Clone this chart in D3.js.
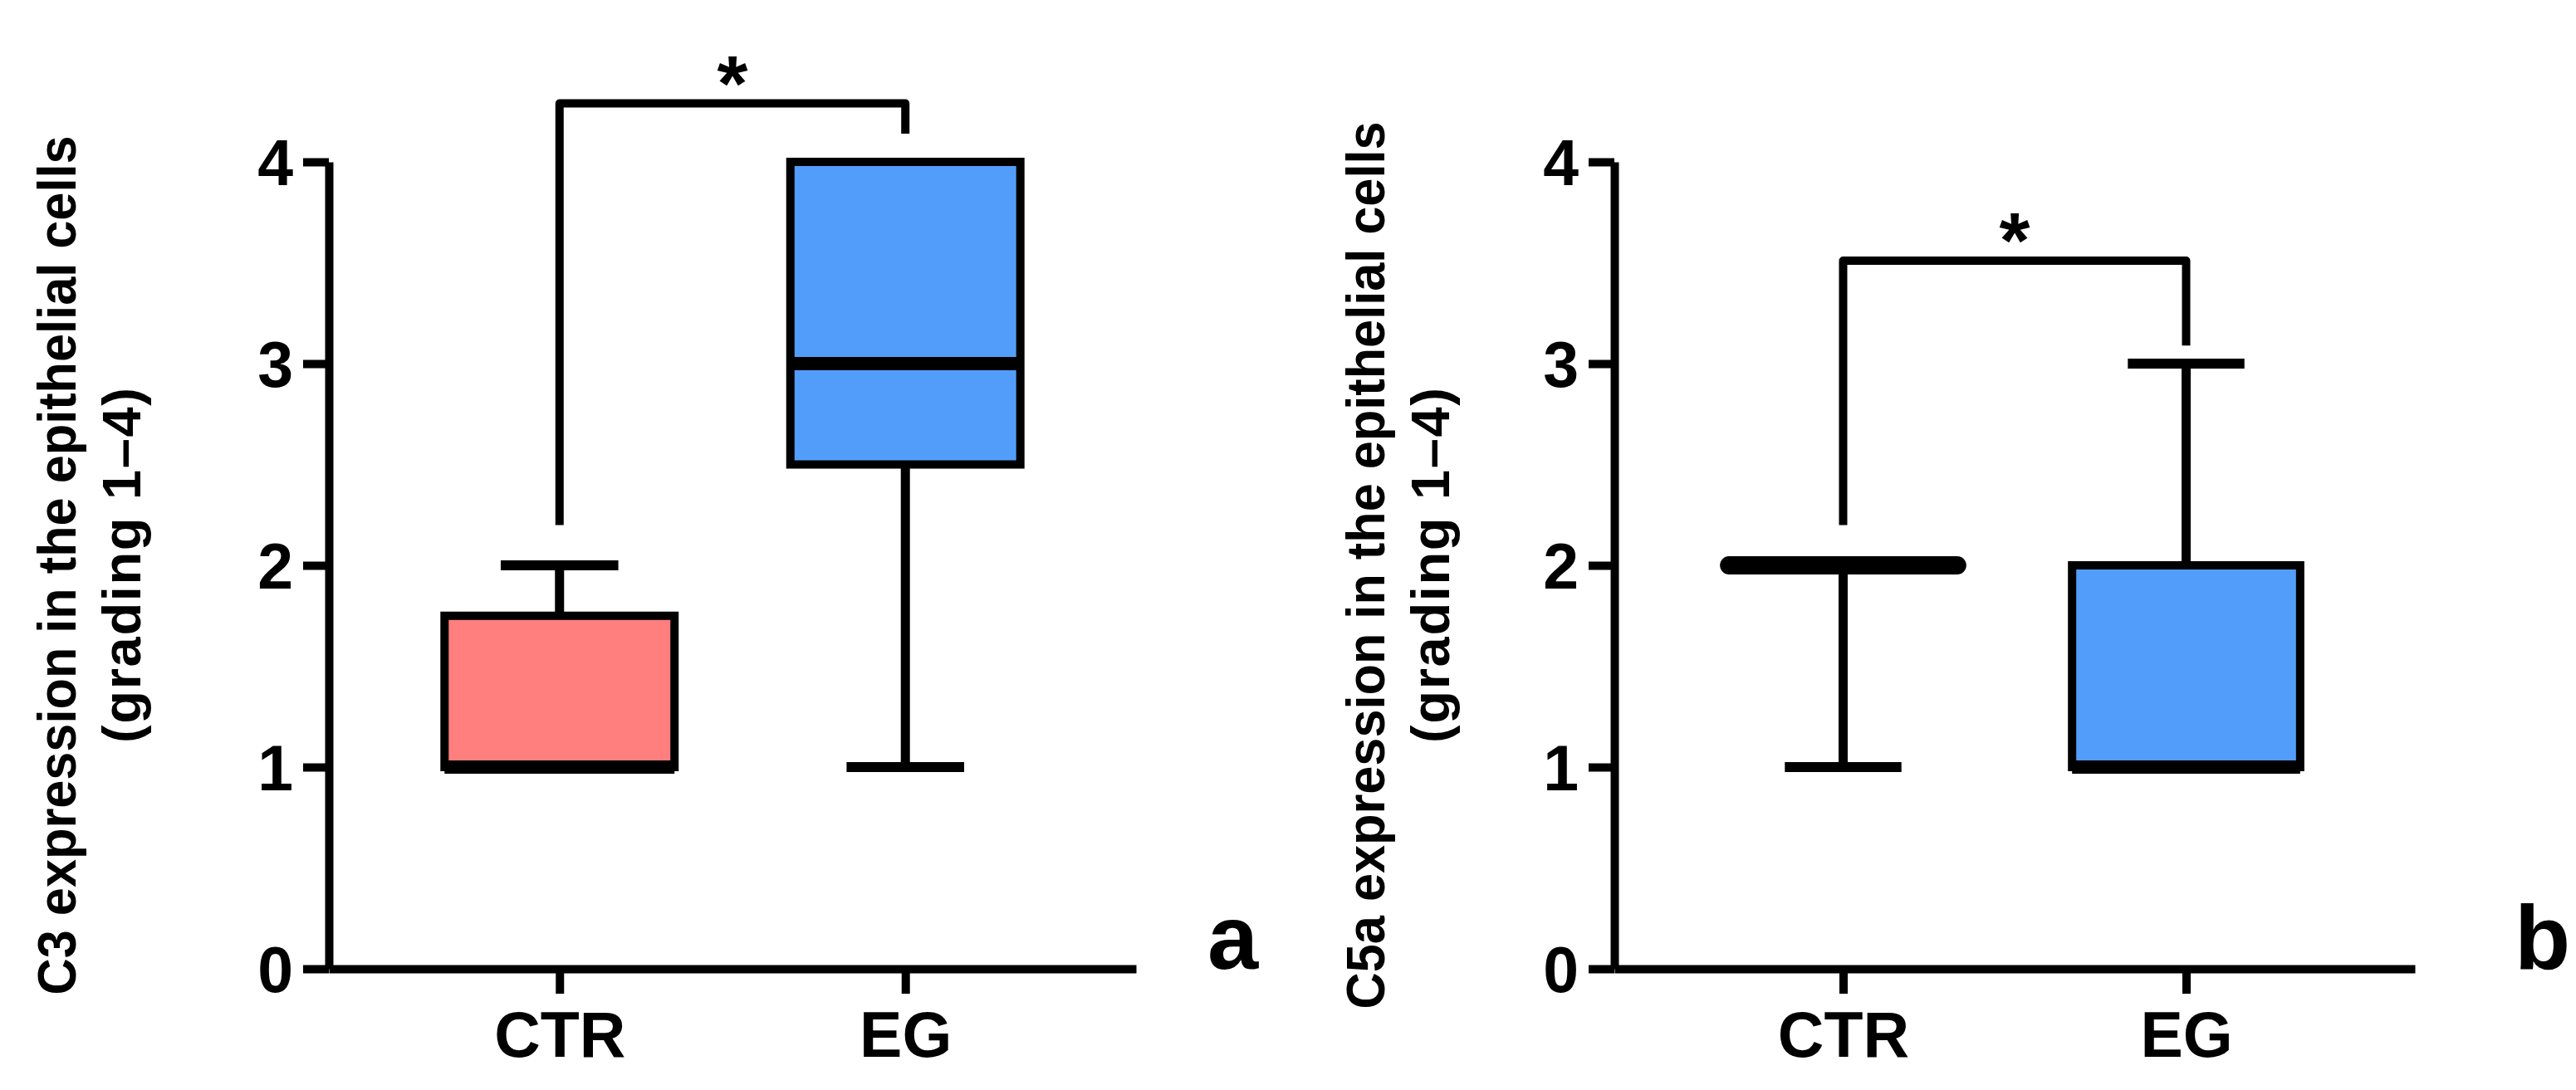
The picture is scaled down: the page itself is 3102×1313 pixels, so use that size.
<!DOCTYPE html>
<html>
<head>
<meta charset="utf-8">
<script src="https://cdn.jsdelivr.net/npm/d3@7"></script>
<style>
  html, body { margin: 0; padding: 0; background: #ffffff; }
  svg { display: block; }
  text { font-family: "Liberation Sans", Arial, Helvetica, sans-serif; font-weight: bold; fill: #000; }
</style>
</head>
<body>
<svg id="chart" width="3102" height="1313"></svg>
<script>
// ---------- data ----------
const categories = ["CTR", "EG"];
const yTicks = [0, 1, 2, 3, 4];

// panel a: C3
const c3Min    = [1, 1];
const c3Q1     = [1, 2.5];
const c3Median = [1, 3];
const c3Q3     = [1.75, 4];
const c3Max    = [2, 4];
const c3Bracket = [2.2, 4.29, 4.14];   // left leg end, top, right leg end
const c3Sig = "*";

// panel b: C5a
const c5aMin    = [1, 1];
const c5aQ1     = [2, 1];
const c5aMedian = [2, 1];
const c5aQ3     = [2, 2];
const c5aMax    = [2, 3];
const c5aBracket = [2.2, 3.51, 3.09];
const c5aSig = "*";

const yTitleLine1 = ["C3 expression in the epithelial cells", "C5a expression in the epithelial cells"];
const yTitleLine2 = "(grading 1\u20134)";
const panelLetters = ["a", "b"];
const boxColors = ["#FF7F7F", "#529DFA"];

// ---------- layout ----------
const svg = d3.select("#chart");
svg.append("rect").attr("width", 3102).attr("height", 1313).attr("fill", "#fff");

const y = d3.scaleLinear().domain([0, 4]).range([1167, 195]);

const panels = [
  { x0: 396, x1: 1368, min: c3Min, q1: c3Q1, med: c3Median, q3: c3Q3, max: c3Max,
    bracket: c3Bracket, sig: c3Sig, title: yTitleLine1[0], tx: [91, 169], letter: panelLetters[0], lx: 1454 },
  { x0: 1944, x1: 2908, min: c5aMin, q1: c5aQ1, med: c5aMedian, q3: c5aQ3, max: c5aMax,
    bracket: c5aBracket, sig: c5aSig, title: yTitleLine1[1], tx: [1667, 1745], letter: panelLetters[1], lx: 3028 }
];

const titleSize = 65;
let titleScale = null;

panels.forEach(p => {
  const g = svg.append("g");
  const x = d3.scalePoint().domain(categories).range([p.x0, p.x1]).padding(0.667);
  const step = x.step();
  const boxW = step * 0.665;
  const capW = step * 0.34;

  // y axis
  const ya = g.append("g").attr("transform", `translate(${p.x0},0)`)
    .call(d3.axisLeft(y).tickValues(yTicks).tickFormat(d3.format("d")).tickSize(31).tickSizeOuter(0).tickPadding(12));
  // x axis
  const xa = g.append("g").attr("transform", `translate(0,${y(0)})`)
    .call(d3.axisBottom(x).tickSize(30).tickSizeOuter(0).tickPadding(21));
  [ya, xa].forEach(a => {
    a.select(".domain").attr("stroke", "#000").attr("stroke-width", 10);
    a.selectAll(".tick line").attr("stroke", "#000").attr("stroke-width", 10);
    a.selectAll(".tick text").attr("fill", "#000").style("font-size", "77px")
      .style("font-family", '"Liberation Sans", Arial, sans-serif').style("font-weight", "bold");
  });
  ya.selectAll(".tick text").attr("dy", "0.36em");

  const idx = d3.range(categories.length);

  // whiskers
  idx.forEach(i => {
    const cx = x(categories[i]);
    if (p.max[i] > p.q3[i]) {
      g.append("line").attr("x1", cx).attr("x2", cx).attr("y1", y(p.q3[i])).attr("y2", y(p.max[i]))
        .attr("stroke", "#000").attr("stroke-width", 11);
      g.append("line").attr("x1", cx - capW / 2).attr("x2", cx + capW / 2).attr("y1", y(p.max[i])).attr("y2", y(p.max[i]))
        .attr("stroke", "#000").attr("stroke-width", 12);
    }
    if (p.min[i] < p.q1[i]) {
      g.append("line").attr("x1", cx).attr("x2", cx).attr("y1", y(p.q1[i])).attr("y2", y(p.min[i]))
        .attr("stroke", "#000").attr("stroke-width", 11);
      g.append("line").attr("x1", cx - capW / 2).attr("x2", cx + capW / 2).attr("y1", y(p.min[i])).attr("y2", y(p.min[i]))
        .attr("stroke", "#000").attr("stroke-width", 12);
    }
  });

  // boxes
  g.selectAll("rect.box").data(idx).join("rect").attr("class", "box")
    .attr("x", i => x(categories[i]) - boxW / 2)
    .attr("y", i => y(p.q3[i]))
    .attr("width", boxW)
    .attr("height", i => y(p.q1[i]) - y(p.q3[i]))
    .attr("fill", i => boxColors[i])
    .attr("stroke", "#000").attr("stroke-width", 10);

  // medians
  g.selectAll("line.med").data(idx).join("line").attr("class", "med")
    .attr("x1", i => x(categories[i]) - boxW / 2)
    .attr("x2", i => x(categories[i]) + boxW / 2)
    .attr("y1", i => y(p.med[i])).attr("y2", i => y(p.med[i]))
    .attr("stroke", "#000")
    .attr("stroke-width", i => p.q1[i] === p.q3[i] ? 22 : 16)
    .attr("stroke-linecap", i => p.q1[i] === p.q3[i] ? "round" : "butt");

  // significance bracket
  const bx1 = x(categories[0]), bx2 = x(categories[1]);
  const path = d3.path();
  path.moveTo(bx1, y(p.bracket[0]));
  path.lineTo(bx1, y(p.bracket[1]));
  path.lineTo(bx2, y(p.bracket[1]));
  path.lineTo(bx2, y(p.bracket[2]));
  g.append("path").attr("d", path.toString()).attr("fill", "none")
    .attr("stroke", "#000").attr("stroke-width", 10).attr("stroke-linejoin", "round");
  g.append("text").attr("x", (bx1 + bx2) / 2).attr("y", y(p.bracket[1]) + 8)
    .attr("text-anchor", "middle").style("font-size", "95px").text(p.sig);

  // y title
  const cy = (y(0) + y(4)) / 2;
  const t1 = g.append("text").attr("transform", `translate(${p.tx[0]},${cy}) rotate(-90)`)
    .attr("text-anchor", "middle").style("font-size", titleSize + "px").text(p.title);
  const natural = t1.node().getComputedTextLength();
  if (titleScale === null) titleScale = 1035 / natural;
  t1.attr("textLength", natural * titleScale).attr("lengthAdjust", "spacingAndGlyphs");
  const t2 = g.append("text").attr("transform", `translate(${p.tx[1]},${cy}) rotate(-90)`)
    .attr("text-anchor", "middle").style("font-size", titleSize + "px").text(yTitleLine2);
  t2.attr("textLength", 428).attr("lengthAdjust", "spacing");

  // panel letter
  g.append("text").attr("x", p.lx).attr("y", y(0)).style("font-size", "110px").text(p.letter);
});
</script>
</body>
</html>
